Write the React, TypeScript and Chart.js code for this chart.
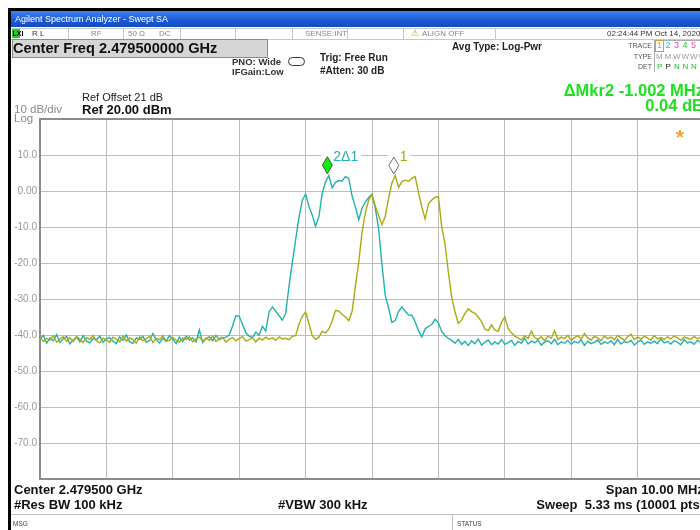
import React, { useEffect, useRef } from "react";
import { Chart, registerables } from "chart.js";

Chart.register(...registerables);

// ---- sweep definition (MHz offset from centre 2.4795 GHz) ----
const SWEEP_START_MHZ = -5;
const SWEEP_STEP_MHZ = 0.05;
const FREQ_MIN_MHZ = -5;
const FREQ_MAX_MHZ = 5;
const REF_LEVEL_DBM = 20;
const BOTTOM_LEVEL_DBM = -80;
const Y_TICK_VALUES = [10, 0, -10, -20, -30, -40, -50, -60, -70];
const Y_TICK_LABELS = ["10.0", "0.00", "-10.0", "-20.0", "-30.0", "-40.0", "-50.0", "-60.0", "-70.0"];

// ---- Trace 1 (yellow), dBm, 201 sweep points ----
const TRACE1_DBM = [
  -40.6, -41.8, -40.9, -41.4, -40.2, -42.0, -41.1, -40.5, -41.7, -40.8,
  -41.9, -40.4, -41.2, -42.1, -40.7, -41.3, -40.1, -41.6, -42.2, -40.9,
  -41.4, -42.0, -40.6, -41.1, -41.9, -40.3, -41.7, -40.8, -41.2, -42.3,
  -40.5, -41.6, -41.0, -40.4, -42.1, -40.9, -41.3, -40.2, -41.8, -41.5,
  -40.7, -41.4, -42.0, -40.8, -41.2, -40.5, -41.9, -41.1, -40.6, -41.7,
  -40.9, -41.5, -40.3, -41.8, -41.0, -40.6, -42.0, -41.2, -40.7, -41.6,
  -41.0, -40.4, -41.7, -41.3, -40.8, -41.9, -40.9, -41.4, -40.6, -41.2,
  -40.8, -41.5, -40.5, -41.1, -40.9, -41.3, -40.4, -40.2, -37.0, -34.8,
  -33.6, -36.8, -40.2, -41.2, -40.6, -39.0, -39.4, -38.3, -36.2, -33.2,
  -33.3, -34.3, -35.0, -36.0, -33.5, -26.4, -19.8, -11.5, -6.0, -2.5,
  -1.0, -4.2, -6.8, -9.4, -7.0, -2.0, 2.2, 4.3, 1.0, 2.6,
  3.0, 2.7, 3.5, 4.0, -0.4, -4.4, -7.8, -3.6, -2.5, -1.7,
  -1.6, -9.9, -14.8, -22.5, -29.5, -33.6, -36.8, -35.8, -34.0, -32.7,
  -33.5, -34.0, -35.0, -36.3, -38.4, -38.8, -37.2, -38.6, -39.0, -36.5,
  -35.0, -38.2, -39.4, -40.3, -40.8, -41.4, -40.2, -41.0, -38.9, -40.7,
  -41.2, -40.5, -41.6, -40.3, -40.9, -38.8, -41.3, -40.6, -41.0, -40.1,
  -41.5, -40.7, -40.2, -41.1, -39.6, -40.9, -41.4, -40.4, -40.8, -41.6,
  -40.3, -41.0, -40.6, -41.3, -40.1, -40.8, -41.5, -40.5, -39.8, -41.2,
  -40.6, -41.1, -40.4, -40.9, -41.4, -40.2, -41.0, -40.7, -41.3, -40.5,
  -41.1, -40.3, -40.8, -41.5, -40.6, -40.9, -41.2, -40.4, -41.0, -40.7,
  -41.1,
];

// ---- Trace 2 (cyan), dBm, 201 sweep points ----
const TRACE2_DBM = [
  -41.2, -40.1, -42.3, -40.8, -41.6, -39.9, -42.0, -41.1, -40.4, -42.5,
  -41.3, -40.6, -41.9, -40.2, -41.7, -42.2, -40.9, -41.4, -40.3, -42.1,
  -41.0, -40.7, -41.8, -42.4, -40.5, -41.5, -40.0, -41.9, -42.3, -40.8,
  -41.2, -40.4, -42.0, -41.6, -39.6, -41.3, -42.2, -40.9, -41.7, -40.2,
  -41.1, -42.4, -40.6, -41.8, -40.3, -41.4, -40.8, -41.9, -38.6, -42.1,
  -41.0, -40.5, -41.6, -40.1, -41.3, -40.8, -40.6, -40.0, -37.5, -34.6,
  -34.8, -37.0, -39.4, -40.3, -40.7, -39.2, -40.1, -37.6, -38.9, -33.6,
  -32.2, -33.4, -34.6, -35.9, -34.0, -26.5, -19.8, -13.5, -7.4, -2.6,
  -0.8, -4.2, -6.7, -9.8, -7.2, -0.6, 2.5, 4.3, 0.9, 2.4,
  2.9, 2.8, 4.0, 3.5, -1.4, -4.4, -8.0, -4.8, -3.0, -1.8,
  -0.9, -4.8, -10.5, -20.5, -29.0, -32.5, -36.5, -36.0, -33.5, -32.2,
  -33.4, -34.4, -34.5, -36.3, -38.8, -40.5, -38.3, -37.6, -37.1, -35.6,
  -36.6, -39.0, -40.2, -40.9, -41.5, -42.3, -41.2, -42.6, -41.8, -42.9,
  -41.6, -42.4, -41.1, -42.8, -42.0, -41.4, -42.7, -41.9, -42.5, -41.3,
  -42.6, -42.1, -41.5, -42.9, -41.8, -42.3, -40.9, -42.5, -41.7, -42.2,
  -41.4, -42.8, -42.0, -41.6, -42.4, -41.2, -42.7, -41.9, -42.3, -41.5,
  -42.6, -41.8, -42.2, -41.3, -42.9, -41.7, -42.4, -42.0, -41.4, -42.6,
  -41.9, -42.3, -41.6, -42.7, -41.2, -42.5, -41.8, -42.1, -41.5, -42.8,
  -42.0, -41.4, -42.6, -41.9, -42.3, -41.7, -42.4, -41.1, -42.2, -41.8,
  -42.5, -41.6, -42.0, -42.7, -41.3, -42.2, -41.9, -42.6, -41.5, -42.1,
  -41.8,
];

// ---- Markers ----
const MARKER_FREQ_MHZ = [0.329, -0.673];
const MARKER_DBM = [4.3, 4.4];
const MARKER_LABELS = ["1", "2\u03941"];

const COLOR_TRACE1 = "#aaaa12";
const COLOR_TRACE2 = "#22b0b0";
const MARKER_FILL = ["#ffffff", "#18e818"];
const MARKER_EDGE = ["#707070", "#2a6a2a"];
const MARKER_TEXT = ["#a8a810", "#22b0b0"];

const FONT = "'Liberation Sans', Arial, sans-serif";

const toPoints = (vals: number[]) =>
  vals.map((v, i) => ({ x: SWEEP_START_MHZ + i * SWEEP_STEP_MHZ, y: v }));

const markerPlugin = {
  id: "saMarkers",
  afterDatasetsDraw(chart: any) {
    const { ctx, scales } = chart;
    const xs = scales.x;
    const ys = scales.y;
    ctx.save();
    MARKER_FREQ_MHZ.forEach((f, k) => {
      const px = xs.getPixelForValue(f);
      const py = ys.getPixelForValue(MARKER_DBM[k]);
      const h = 17;
      const w = 10;
      const tipY = py - 1.5;
      const topY = tipY - h;
      const cy = tipY - h / 2;
      ctx.font = `14px ${FONT}`;
      const label = MARKER_LABELS[k];
      const tw = ctx.measureText(label).width;
      ctx.fillStyle = "#ffffff";
      ctx.fillRect(px - w / 2 - 1, topY - 7, w / 2 + 1 + 6 + tw + 3, 13);
      ctx.beginPath();
      ctx.moveTo(px, topY);
      ctx.lineTo(px + w / 2, cy);
      ctx.lineTo(px, tipY);
      ctx.lineTo(px - w / 2, cy);
      ctx.closePath();
      ctx.fillStyle = MARKER_FILL[k];
      ctx.fill();
      ctx.strokeStyle = MARKER_EDGE[k];
      ctx.lineWidth = 1;
      ctx.stroke();
      ctx.fillStyle = MARKER_TEXT[k];
      ctx.textBaseline = "middle";
      ctx.textAlign = "left";
      ctx.fillText(label, px + 6, topY);
    });
    ctx.restore();
  },
};

type TP = {
  x?: number;
  r?: number;
  y: number;
  size: number;
  bold?: boolean;
  color?: string;
  family?: string;
  children: React.ReactNode;
};

const T = ({ x, r, y, size, bold, color, family, children }: TP) => (
  <div
    style={{
      position: "absolute",
      left: x,
      right: r,
      top: y - size * 0.5,
      fontSize: size,
      lineHeight: 1,
      fontWeight: bold ? 700 : 400,
      color: color || "#000",
      fontFamily: family || FONT,
      whiteSpace: "pre",
    }}
  >
    {children}
  </div>
);

const TRACE_NUMS = ["1", "2", "3", "4", "5", "6"];
const TRACE_NUM_COLORS = ["#f0a000", "#20c0e0", "#e040e0", "#30c030", "#f050b0", "#a040f0"];
const TRACE_TYPES = ["M", "M", "W", "W", "W", "W"];
const TRACE_DETS = ["P", "P", "N", "N", "N", "N"];
const TRACE_DET_COLORS = ["#20c020", "#222", "#20c020", "#20c020", "#20c020", "#20c020"];

export default function App() {
  const canvasRef = useRef<HTMLCanvasElement>(null);

  useEffect(() => {
    if (!canvasRef.current) return;
    const chart = new Chart(canvasRef.current, {
      type: "line",
      data: {
        datasets: [
          {
            label: "Trace 1",
            data: toPoints(TRACE1_DBM),
            borderColor: COLOR_TRACE1,
            borderWidth: 1.4,
            pointRadius: 0,
            tension: 0,
          },
          {
            label: "Trace 2",
            data: toPoints(TRACE2_DBM),
            borderColor: COLOR_TRACE2,
            borderWidth: 1.4,
            pointRadius: 0,
            tension: 0,
          },
        ],
      },
      options: {
        animation: false,
        responsive: false,
        devicePixelRatio: 1,
        events: [],
        layout: { padding: { top: 119, bottom: 51, left: 0, right: 16 } },
        plugins: { legend: { display: false }, tooltip: { enabled: false } },
        scales: {
          x: {
            type: "linear",
            min: FREQ_MIN_MHZ,
            max: FREQ_MAX_MHZ,
            ticks: { display: false, stepSize: 1 },
            grid: { color: "#bdbdbd", lineWidth: 1, drawTicks: false },
            border: { display: true, color: "#8c8c8c", width: 2 },
            afterFit: (s: any) => {
              s.height = 0;
            },
          },
          y: {
            min: BOTTOM_LEVEL_DBM,
            max: REF_LEVEL_DBM,
            ticks: {
              stepSize: 10,
              padding: 3,
              color: "#9a9a9a",
              font: { family: FONT, size: 10 },
              callback: (v: any) => {
                const idx = Y_TICK_VALUES.indexOf(Number(v));
                return idx >= 0 ? Y_TICK_LABELS[idx] : "";
              },
            },
            grid: {
              drawTicks: false,
              color: (c: any) =>
                c.tick && (c.tick.value === REF_LEVEL_DBM || c.tick.value === BOTTOM_LEVEL_DBM)
                  ? "#8c8c8c"
                  : "#bdbdbd",
              lineWidth: (c: any) =>
                c.tick && (c.tick.value === REF_LEVEL_DBM || c.tick.value === BOTTOM_LEVEL_DBM) ? 2 : 1,
            },
            border: { display: true, color: "#8c8c8c", width: 2 },
            afterFit: (s: any) => {
              s.width = 40;
            },
          },
        },
      },
      plugins: [markerPlugin],
    } as any);
    return () => chart.destroy();
  }, []);

  return (
    <div
      style={{
        position: "fixed",
        left: 0,
        top: 0,
        width: 700,
        height: 530,
        overflow: "hidden",
        background: "#fff",
        fontFamily: FONT,
      }}
    >
      <canvas
        ref={canvasRef}
        width={720}
        height={530}
        style={{ position: "absolute", left: 0, top: 0, width: 720, height: 530 }}
      />
      {/* window frame */}
      <div style={{ position: "absolute", left: 8, top: 8, width: 3, height: 522, background: "#000" }} />
      <div style={{ position: "absolute", left: 8, top: 8, width: 692, height: 3, background: "#000" }} />
      {/* title bar */}
      <div
        style={{
          position: "absolute",
          left: 11,
          top: 11,
          width: 689,
          height: 16,
          background: "linear-gradient(#3d82ee, #1a58d4 60%, #164bc0)",
        }}
      />
      <T x={15} y={19.5} size={9} color="#ffffff">
        Agilent Spectrum Analyzer - Swept SA
      </T>
      {/* status row */}
      <div
        style={{
          position: "absolute",
          left: 11,
          top: 28,
          width: 689,
          height: 10,
          borderTop: "1px solid #c8c8c8",
          borderBottom: "1px solid #c8c8c8",
        }}
      />
      {[68, 123, 180, 235, 292, 347, 403, 495].map((sx) => (
        <div key={sx} style={{ position: "absolute", left: sx, top: 28, width: 1, height: 11, background: "#c8c8c8" }} />
      ))}
      <div style={{ position: "absolute", left: 12, top: 29, width: 8, height: 9, background: "#22cc22" }} />
      <T x={12.5} y={33.5} size={7} bold color="#000">LXI</T>
      <T x={32} y={33.5} size={8} color="#333">R L</T>
      <T x={91} y={33.5} size={8} color="#888">RF</T>
      <T x={128} y={33.5} size={8} color="#888">50 Ω</T>
      <T x={159} y={33.5} size={8} color="#888">DC</T>
      <T x={305} y={33.5} size={8} color="#888">SENSE:INT</T>
      <T x={411} y={33.5} size={9} color="#d0a000">⚠</T>
      <T x={422} y={33.5} size={8} color="#888">ALIGN OFF</T>
      <T x={607} y={33.5} size={8} color="#333">02:24:44 PM Oct 14, 2020</T>
      {/* center freq box */}
      <div
        style={{
          position: "absolute",
          left: 12,
          top: 39,
          width: 254,
          height: 17,
          background: "#d6d6d6",
          border: "1px solid #8a8a8a",
        }}
      />
      <T x={13} y={48} size={14.6} bold color="#111">Center Freq 2.479500000 GHz</T>
      <T x={232} y={62} size={9.5} bold color="#333">PNO: Wide</T>
      <T x={232} y={72} size={9.5} bold color="#333">IFGain:Low</T>
      <div
        style={{
          position: "absolute",
          left: 288,
          top: 57,
          width: 15,
          height: 7,
          border: "1.5px solid #333",
          borderRadius: 5,
        }}
      />
      <T x={320} y={58} size={10} bold color="#222">Trig: Free Run</T>
      <T x={320} y={70.5} size={10} bold color="#222">#Atten: 30 dB</T>
      <T x={452} y={46.5} size={10} bold color="#222">Avg Type: Log-Pwr</T>
      {/* trace panel */}
      <T r={48} y={45} size={7} color="#555">TRACE</T>
      <T r={48} y={56.5} size={7} color="#555">TYPE</T>
      <T r={48} y={66.5} size={7} color="#555">DET</T>
      <div
        style={{
          position: "absolute",
          left: 654,
          top: 40,
          width: 60,
          height: 31,
          borderLeft: "1px solid #aaa",
          borderTop: "1px solid #aaa",
        }}
      />
      <div style={{ position: "absolute", left: 655, top: 40, width: 7, height: 10, border: "1px solid #d0a040" }} />
      {TRACE_NUMS.map((n, i) => (
        <T key={"n" + n} x={657 + i * 8.5} y={45.5} size={9} color={TRACE_NUM_COLORS[i]}>
          {n}
        </T>
      ))}
      {TRACE_TYPES.map((t, i) => (
        <T key={"t" + i} x={656 + i * 8.5} y={56.5} size={8} color="#999">
          {t}
        </T>
      ))}
      {TRACE_DETS.map((t, i) => (
        <T key={"d" + i} x={657 + i * 8.5} y={66.5} size={8} color={TRACE_DET_COLORS[i]}>
          {t}
        </T>
      ))}
      {/* ref info */}
      <T x={82} y={97.5} size={11} color="#222">Ref Offset 21 dB</T>
      <T x={82} y={109} size={13} bold color="#111">Ref 20.00 dBm</T>
      <T x={14} y={110} size={11.5} color="#8a8a8a">10 dB/div</T>
      <T x={14} y={118.5} size={11.5} color="#8a8a8a">Log</T>
      {/* marker readout */}
      <T r={-4} y={90} size={16.5} bold color="#1ee01e">ΔMkr2 -1.002 MHz</T>
      <T r={-4} y={105} size={16.5} bold color="#1ee01e">0.04 dB</T>
      {/* star */}
      <T x={676} y={137} size={20} bold color="#f0a020">*</T>
      {/* bottom annotations */}
      <T x={14} y={489} size={13} bold color="#111">Center 2.479500 GHz</T>
      <T x={14} y={504} size={13} bold color="#111">#Res BW 100 kHz</T>
      <T x={278} y={504} size={13} bold color="#111">#VBW 300 kHz</T>
      <T r={-4} y={489} size={13} bold color="#111">Span 10.00 MHz</T>
      <T r={-4} y={504} size={13} bold color="#111">Sweep  5.33 ms (10001 pts)</T>
      {/* message bar */}
      <div style={{ position: "absolute", left: 11, top: 514, width: 689, height: 1, background: "#c0c0c0" }} />
      <div style={{ position: "absolute", left: 452, top: 515, width: 1, height: 15, background: "#c0c0c0" }} />
      <T x={13} y={524} size={6.5} color="#444">MSG</T>
      <T x={457} y={524} size={6.5} color="#444">STATUS</T>
    </div>
  );
}
